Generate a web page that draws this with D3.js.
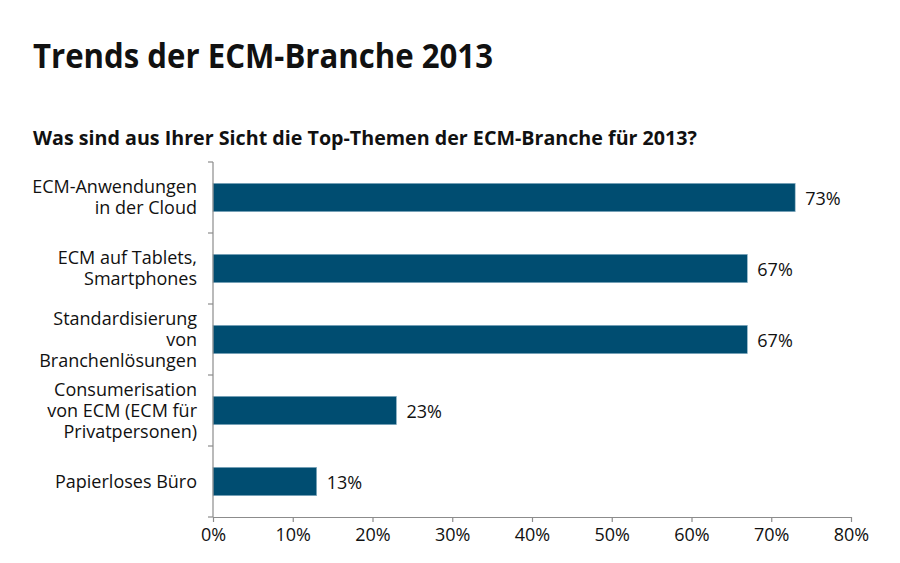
<!DOCTYPE html>
<html>
<head>
<meta charset="utf-8">
<script src="https://cdn.jsdelivr.net/npm/d3@7"></script>
<style>
  body { margin: 0; background: #fff; }
  text { font-family: "Open Sans", sans-serif; fill: #111; }
</style>
</head>
<body>
<div class="canvas"></div>
<script>
const categories = [
    ['ECM-Anwendungen', 'in der Cloud'],
    ['ECM auf Tablets,', 'Smartphones'],
    ['Standardisierung', 'von', 'Branchenlösungen'],
    ['Consumerisation', 'von ECM (ECM für', 'Privatpersonen)'],
    ['Papierloses Büro']
];
const values = [73, 67, 67, 23, 13];
const xTicks = [0, 10, 20, 30, 40, 50, 60, 70, 80];

const svg = d3.select('.canvas')
    .append('svg')
    .attr('width', 900)
    .attr('height', 563);

// titles
svg.append('text')
    .attr('x', 33).attr('y', 68)
    .attr('font-size', 34).attr('font-weight', 'bold')
    .attr('textLength', 460).attr('lengthAdjust', 'spacingAndGlyphs')
    .text('Trends der ECM-Branche 2013');

svg.append('text')
    .attr('x', 33).attr('y', 145)
    .attr('font-size', 19).attr('font-weight', 'bold')
    .attr('textLength', 664).attr('lengthAdjust', 'spacingAndGlyphs')
    .text('Was sind aus Ihrer Sicht die Top-Themen der ECM-Branche für 2013?');

const x = d3.scaleLinear()
    .domain([0, 80])
    .range([213, 851]);

const y = d3.scaleBand()
    .domain(d3.range(categories.length))
    .range([162, 517])
    .paddingInner(0.6)
    .paddingOuter(0.3);

const step = y.step();

// bars
svg.selectAll('rect.bar')
    .data(values)
    .enter()
    .append('rect')
    .attr('class', 'bar')
    .attr('x', x(0))
    .attr('y', (d, i) => y(i))
    .attr('width', d => x(d) - x(0))
    .attr('height', y.bandwidth())
    .attr('fill', '#004d71')
    .attr('stroke', '#8fb3c6')
    .attr('stroke-width', 0.6);

// value labels
svg.selectAll('text.val')
    .data(values)
    .enter()
    .append('text')
    .attr('class', 'val')
    .attr('x', d => x(d) + 10)
    .attr('y', (d, i) => y(i) + y.bandwidth() / 2 + 7)
    .attr('font-size', 18)
    .text(d => d + '%');

// y axis line + ticks at band boundaries
const axisColor = '#8c8c8c';
svg.append('line')
    .attr('x1', x(0)).attr('x2', x(0))
    .attr('y1', 162).attr('y2', 517)
    .attr('stroke', axisColor).attr('stroke-width', 1.2);

svg.selectAll('line.ytick')
    .data(d3.range(categories.length + 1))
    .enter()
    .append('line')
    .attr('class', 'ytick')
    .attr('x1', x(0) - 5).attr('x2', x(0))
    .attr('y1', i => 162 + i * step)
    .attr('y2', i => 162 + i * step)
    .attr('stroke', axisColor).attr('stroke-width', 1.2);

// x axis
const xAxis = svg.append('g')
    .attr('transform', 'translate(0,517)')
    .call(d3.axisBottom(x).tickValues(xTicks).tickFormat(d => d + '%').tickSize(5).tickSizeOuter(0));

xAxis.select('.domain').attr('stroke', axisColor).attr('stroke-width', 1.2);
xAxis.selectAll('.tick line').attr('stroke', axisColor).attr('stroke-width', 1.2);
xAxis.selectAll('.tick text')
    .attr('font-size', 18)
    .attr('font-family', '"Open Sans", sans-serif')
    .attr('fill', '#111')
    .attr('dy', '0.9em');

// category labels
const lineH = 21;
const labels = svg.selectAll('text.cat')
    .data(categories)
    .enter()
    .append('text')
    .attr('class', 'cat')
    .attr('text-anchor', 'end')
    .attr('font-size', 18)
    .attr('x', 197)
    .attr('y', (d, i) => y(i) + y.bandwidth() / 2 - (d.length - 1) * lineH / 2 + 6);

labels.selectAll('tspan')
    .data(d => d)
    .enter()
    .append('tspan')
    .attr('x', 197)
    .attr('dy', (d, j) => j === 0 ? 0 : lineH)
    .text(d => d);
</script>
</body>
</html>
